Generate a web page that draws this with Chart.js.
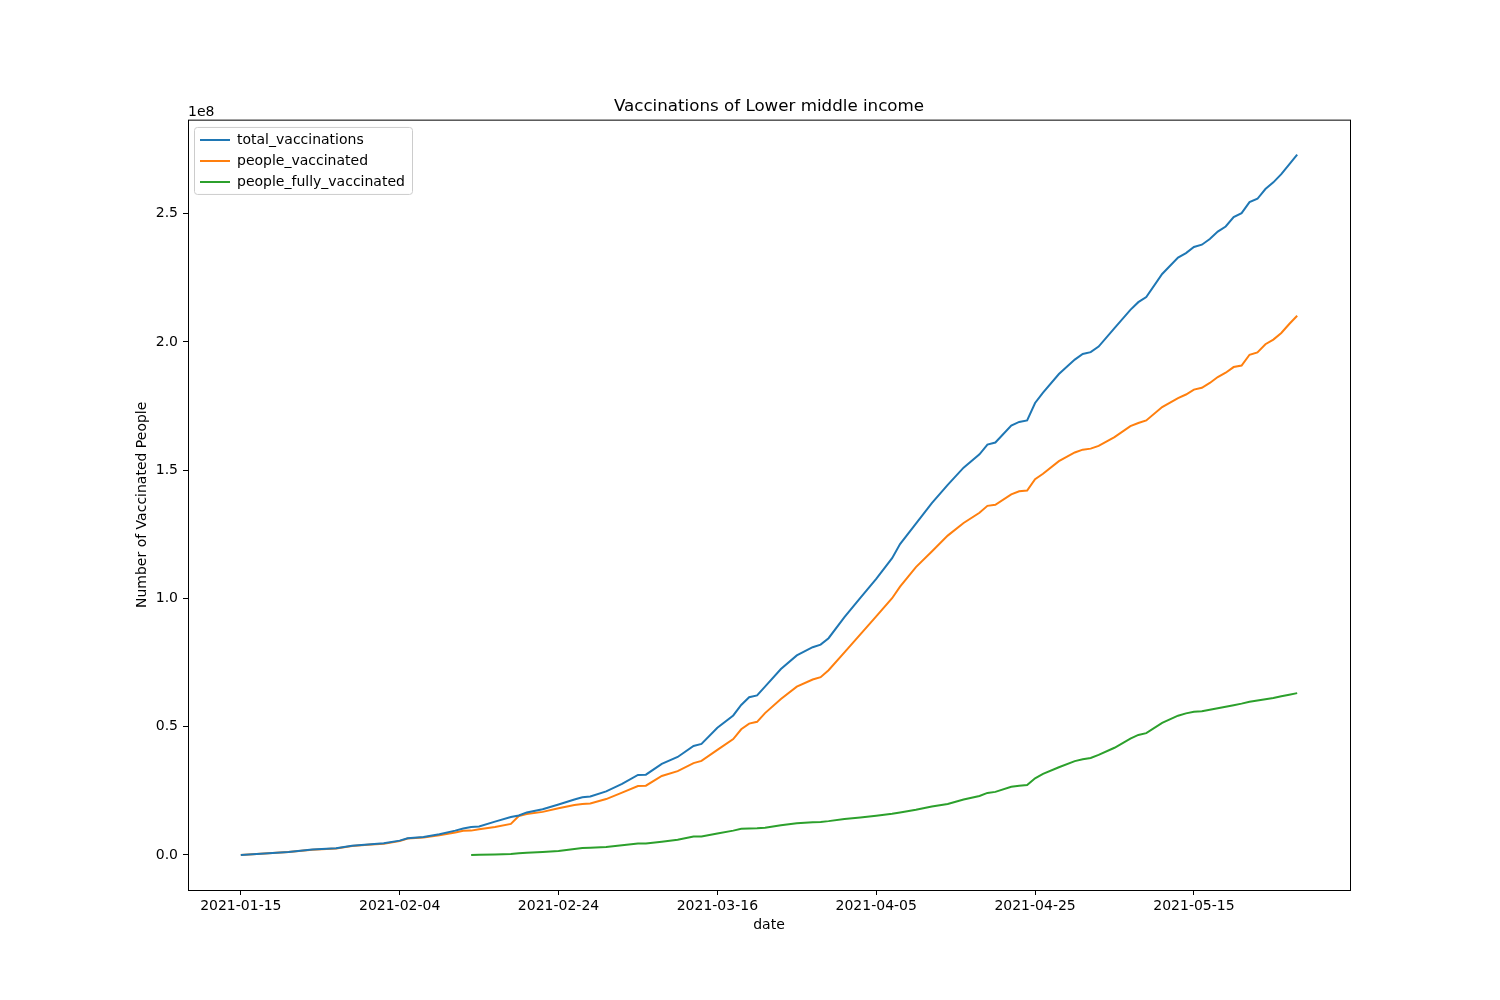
<!DOCTYPE html>
<html>
<head>
<meta charset="utf-8">
<title>Vaccinations of Lower middle income</title>
<script src="https://cdn.jsdelivr.net/npm/chart.js@4.4.0/dist/chart.umd.min.js"></script>
<style>
  html, body { margin: 0; padding: 0; background: #fff; }
  canvas { display: block; }
</style>
</head>
<body>
<canvas id="vaxChart" width="1500" height="1000"></canvas>
<script>
// Dates (not every day, just enough to follow the wiggles)
var dates = [
  '2021-01-15','2021-01-18','2021-01-21','2021-01-24','2021-01-27','2021-01-29','2021-01-31','2021-02-02',
  '2021-02-04','2021-02-05','2021-02-07','2021-02-09','2021-02-11','2021-02-12','2021-02-13','2021-02-14',
  '2021-02-16','2021-02-18','2021-02-19','2021-02-20','2021-02-22','2021-02-24','2021-02-26','2021-02-27',
  '2021-02-28','2021-03-02','2021-03-04','2021-03-06','2021-03-07','2021-03-09','2021-03-11','2021-03-13',
  '2021-03-14','2021-03-16','2021-03-18','2021-03-19','2021-03-20','2021-03-21','2021-03-22','2021-03-24',
  '2021-03-26','2021-03-28','2021-03-29','2021-03-30','2021-04-01','2021-04-03','2021-04-05','2021-04-07',
  '2021-04-08','2021-04-10','2021-04-12','2021-04-14','2021-04-16','2021-04-18','2021-04-19','2021-04-20',
  '2021-04-22','2021-04-23','2021-04-24','2021-04-25','2021-04-26','2021-04-28','2021-04-30','2021-05-01',
  '2021-05-02','2021-05-03','2021-05-05','2021-05-07','2021-05-08','2021-05-09','2021-05-11','2021-05-13',
  '2021-05-14','2021-05-15','2021-05-16','2021-05-17','2021-05-18','2021-05-19','2021-05-20','2021-05-21',
  '2021-05-22','2021-05-23','2021-05-24','2021-05-25','2021-05-26','2021-05-27','2021-05-28'
];

// values in millions of people
var totalVaccinations = [
  0, 0.6, 1.2, 2.1, 2.6, 3.6, 4.1, 4.6,
  5.6, 6.5, 7.0, 8.1, 9.5, 10.3, 10.9, 11.1,
  13.0, 14.8, 15.4, 16.6, 17.8, 19.7, 21.6, 22.5,
  22.8, 24.8, 27.7, 31.2, 31.3, 35.5, 38.2, 42.5,
  43.3, 49.6, 54.4, 58.5, 61.5, 62.2, 65.6, 72.5,
  77.8, 81.0, 82.0, 84.5, 92.7, 100.2, 107.6, 115.7,
  121.2, 129.2, 137.2, 144.3, 151.0, 156.2, 160.0, 160.8,
  167.4, 168.8, 169.4, 176.2, 180.2, 187.5, 193.1, 195.3,
  196.0, 198.2, 205.4, 212.5, 215.5, 217.5, 226.5, 232.9,
  234.6, 237.0, 237.9, 240.1, 243.0, 245.0, 248.7, 250.2,
  254.5, 255.8, 259.6, 262.2, 265.4, 269.2, 273.0
];

var peopleVaccinated = [
  0, 0.6, 1.2, 2.0, 2.5, 3.5, 4.0, 4.4,
  5.4, 6.4, 6.8, 7.7, 8.8, 9.4, 9.5, 10.0,
  10.9, 12.1, 15.2, 16.0, 16.8, 18.2, 19.5, 19.9,
  20.1, 21.8, 24.3, 26.9, 27.0, 30.8, 32.7, 35.8,
  36.7, 41.0, 45.2, 49.0, 51.2, 51.9, 55.3, 60.8,
  65.6, 68.4, 69.3, 72.0, 79.0, 86.0, 93.0, 100.1,
  104.6, 112.2, 118.3, 124.5, 129.4, 133.4, 136.1, 136.5,
  140.6, 141.8, 142.1, 146.5, 148.6, 153.5, 156.9, 158.0,
  158.4, 159.5, 162.9, 167.2, 168.4, 169.4, 174.6, 178.1,
  179.5, 181.4, 182.1, 184.0, 186.3, 188.0, 190.2, 190.8,
  195.0, 195.9, 199.1, 200.9, 203.5, 207.0, 210.2
];

// no data before 2021-02-13
var peopleFullyVaccinated = [
  null, null, null, null, null, null, null, null,
  null, null, null, null, null, null, 0, 0.1,
  0.2, 0.4, 0.7, 0.9, 1.2, 1.6, 2.3, 2.7,
  2.8, 3.1, 3.8, 4.5, 4.5, 5.2, 5.9, 7.2,
  7.2, 8.4, 9.5, 10.2, 10.3, 10.4, 10.6, 11.6,
  12.4, 12.8, 12.9, 13.2, 14.0, 14.6, 15.3, 16.1,
  16.6, 17.6, 18.9, 19.9, 21.6, 23.0, 24.2, 24.6,
  26.6, 27.0, 27.3, 29.9, 31.6, 34.2, 36.6, 37.3,
  37.8, 39.0, 41.8, 45.4, 46.8, 47.5, 51.5, 54.3,
  55.2, 55.8, 56.0, 56.6, 57.2, 57.8, 58.4, 59.0,
  59.7, 60.2, 60.7, 61.2, 61.9, 62.5, 63.1
];

var xTickLabels = ['2021-01-15', '2021-02-04', '2021-02-24', '2021-03-16', '2021-04-05', '2021-04-25', '2021-05-15'];
var yTickValues = [0, 50, 100, 150, 200, 250];
var yTickLabels = ['0.0', '0.5', '1.0', '1.5', '2.0', '2.5'];

var startDate = dates[0];
function dayOffset(d) {
    return (Date.parse(d) - Date.parse(startDate)) / 86400000;
}

function toPoints(values) {
    return dates.map(function(d, i) {
        return { x: dayOffset(d), y: values[i] };
    });
}

Chart.defaults.font.family = 'DejaVu Sans';
Chart.defaults.font.size = 14;
Chart.defaults.color = '#000';

// box round the plot, legend frame and the 1e8 offset label
var framePlugin = {
    id: 'frame',
    afterLayout: function(chart) {
        var lg = chart.legend;
        var a = chart.chartArea;
        var w = lg.width, h = lg.height;
        lg.left = a.left + 5;
        lg.top = a.top + 6.3;
        lg.right = lg.left + w;
        lg.bottom = lg.top + h;
    },
    beforeDraw: function(chart) {
        var ctx = chart.ctx;
        var lg = chart.legend;
        ctx.save();
        ctx.beginPath();
        ctx.roundRect(lg.left + 1.5, lg.top + 1.5, 218, 67, 3);
        ctx.fillStyle = 'rgba(255,255,255,0.8)';
        ctx.fill();
        ctx.strokeStyle = '#cccccc';
        ctx.lineWidth = 1;
        ctx.stroke();
        ctx.restore();
    },
    afterDraw: function(chart) {
        var ctx = chart.ctx;
        var a = chart.chartArea;
        ctx.save();
        ctx.strokeStyle = '#000';
        ctx.lineWidth = 1;
        ctx.strokeRect(a.left + 0.5, a.top + 0.5, a.right - a.left, a.bottom - a.top);
        ctx.fillStyle = '#000';
        ctx.font = '14px "DejaVu Sans"';
        ctx.textAlign = 'left';
        ctx.textBaseline = 'alphabetic';
        ctx.fillText('1e8', a.left, a.top - 4);
        ctx.restore();
    }
};

var ctx = document.getElementById('vaxChart').getContext('2d');
var myChart = new Chart(ctx, {
    type: 'line',
    data: {
        datasets: [{
            label: 'total_vaccinations',
            data: toPoints(totalVaccinations),
            borderColor: '#1f77b4',
            backgroundColor: '#1f77b4',
            borderWidth: 2,
            pointRadius: 0,
            fill: false,
            tension: 0
        }, {
            label: 'people_vaccinated',
            data: toPoints(peopleVaccinated),
            borderColor: '#ff7f0e',
            backgroundColor: '#ff7f0e',
            borderWidth: 2,
            pointRadius: 0,
            fill: false,
            tension: 0
        }, {
            label: 'people_fully_vaccinated',
            data: toPoints(peopleFullyVaccinated),
            borderColor: '#2ca02c',
            backgroundColor: '#2ca02c',
            borderWidth: 2,
            pointRadius: 0,
            fill: false,
            tension: 0
        }]
    },
    options: {
        responsive: false,
        animation: false,
        devicePixelRatio: 1,
        layout: {
            padding: { top: 94.6, right: 150, bottom: 0, left: 0 }
        },
        plugins: {
            title: {
                display: true,
                text: 'Vaccinations of Lower middle income',
                fullSize: false,
                font: { size: 16.7, weight: 'normal' },
                padding: { top: 2, bottom: 3 }
            },
            legend: {
                position: 'chartArea',
                align: 'start',
                labels: {
                    usePointStyle: true,
                    pointStyle: 'line',
                    pointStyleWidth: 30,
                    padding: 7,
                    font: { size: 14 }
                }
            },
            tooltip: { enabled: false }
        },
        scales: {
            x: {
                type: 'linear',
                min: -6.65,
                max: 139.65,
                afterBuildTicks: function(scale) {
                    scale.ticks = xTickLabels.map(function(l) { return { value: dayOffset(l) }; });
                },
                afterFit: function(scale) { scale.height = 110; },
                ticks: {
                    autoSkip: false,
                    maxRotation: 0,
                    padding: 3,
                    callback: function(value, index) { return xTickLabels[index]; }
                },
                grid: { display: true, drawOnChartArea: false, drawTicks: true, tickLength: 5, color: '#000' },
                border: { display: false },
                title: {
                    display: true,
                    text: 'date',
                    font: { size: 14 },
                    padding: { top: 0, bottom: 66 }
                }
            },
            y: {
                type: 'linear',
                min: -13.65,
                max: 286.65,
                afterBuildTicks: function(scale) {
                    scale.ticks = yTickValues.map(function(v) { return { value: v }; });
                },
                afterFit: function(scale) { scale.width = 188; },
                ticks: {
                    autoSkip: false,
                    padding: 5,
                    callback: function(value, index) { return yTickLabels[index]; }
                },
                grid: { display: true, drawOnChartArea: false, drawTicks: true, tickLength: 5, color: '#000' },
                border: { display: false },
                title: {
                    display: true,
                    text: 'Number of Vaccinated People',
                    font: { size: 14 },
                    padding: { top: 133.6, bottom: 0 }
                }
            }
        }
    },
    plugins: [framePlugin]
});
</script>
</body>
</html>
